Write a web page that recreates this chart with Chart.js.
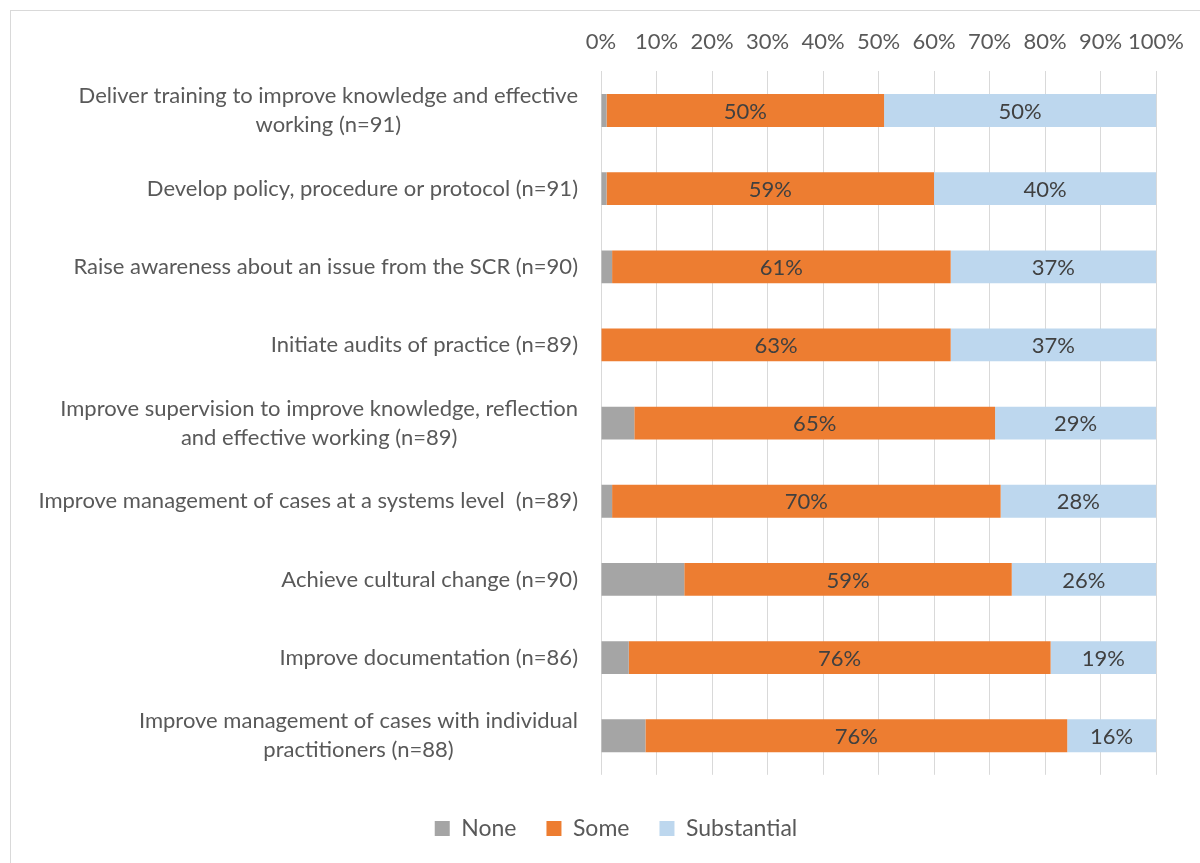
<!DOCTYPE html>
<html>
<head>
<meta charset="utf-8">
<script src="https://cdn.jsdelivr.net/npm/chart.js@4/dist/chart.umd.min.js"></script>
<style>
  html, body { margin: 0; padding: 0; background: #fff; overflow: hidden; }
  #frame { position: absolute; left: 10px; top: 10px; width: 1300px; height: 1000px; border: 1px solid #d9d9d9; }
  #wrap { position: absolute; left: 0; top: 0; width: 1200px; height: 863px; }
</style>
</head>
<body>
<div id="frame"></div>
<div id="wrap"><canvas id="chart1"></canvas></div>
<script>
// categories (top to bottom) and the three response levels, in percent
let categories = [
  ['Deliver training to improve knowledge and effective', 'working (n=91)'],
  'Develop policy, procedure or protocol (n=91)',
  'Raise awareness about an issue from the SCR (n=90)',
  'Initiate audits of practice (n=89)',
  ['Improve supervision to improve knowledge, reflection', 'and effective working (n=89)'],
  'Improve management of cases at a systems level  (n=89)',
  'Achieve cultural change (n=90)',
  'Improve documentation (n=86)',
  ['Improve management of cases with individual', 'practitioners (n=88)']
];
let none = [1, 1, 2, 0, 6, 2, 15, 5, 8];
let some = [50, 59, 61, 63, 65, 70, 59, 76, 76];
let substantial = [50, 40, 37, 37, 29, 28, 26, 19, 16];
let xTicks = [0, 10, 20, 30, 40, 50, 60, 70, 80, 90, 100];

const FONT = 'Lato';
const FSIZE = 22;
const TEXT = '#595959';

// category labels: block right aligned, lines centred inside the block
const catLabels = {
  id: 'catLabels',
  afterDraw(chart) {
    const ctx = chart.ctx;
    const y = chart.scales.y;
    const right = chart.chartArea.left - 23;
    const lh = 29;
    ctx.save();
    ctx.font = FSIZE + 'px ' + FONT;
    ctx.fillStyle = TEXT;
    ctx.textAlign = 'center';
    ctx.textBaseline = 'middle';
    categories.forEach((lab, i) => {
      const lines = Array.isArray(lab) ? lab : [lab];
      let w = 0;
      lines.forEach(l => { w = Math.max(w, ctx.measureText(l).width); });
      const cx = right - w / 2;
      const cy = y.getPixelForValue(i) - (lines.length - 1) * lh / 2;
      lines.forEach((l, k) => ctx.fillText(l, cx, cy + k * lh));
    });
    ctx.restore();
  }
};

// percentage labels in the Some / Substantial segments
const barLabels = {
  id: 'barLabels',
  afterDatasetsDraw(chart) {
    const ctx = chart.ctx;
    ctx.save();
    ctx.font = FSIZE + 'px ' + FONT;
    ctx.fillStyle = '#404040';
    ctx.textAlign = 'center';
    ctx.textBaseline = 'middle';
    [1, 2].forEach(d => {
      const meta = chart.getDatasetMeta(d);
      const vals = chart.data.datasets[d].data;
      meta.data.forEach((bar, i) => {
        const left = Math.max(bar.base, chart.chartArea.left);
        const right = Math.min(bar.x, chart.chartArea.right);
        ctx.fillText(vals[i] + '%', (left + right) / 2, bar.y + 1);
      });
    });
    ctx.restore();
  }
};

const data = {
  labels: categories,
  datasets: [
    { label: 'None', data: none, backgroundColor: '#a5a5a5' },
    { label: 'Some', data: some, backgroundColor: '#ed7d31' },
    { label: 'Substantial', data: substantial, backgroundColor: '#bdd7ee' }
  ]
};

const config = {
  type: 'bar',
  data: data,
  options: {
    indexAxis: 'y',
    responsive: false,
    animation: false,
    devicePixelRatio: 1,
    layout: { padding: { left: 74, right: 42, top: 13, bottom: 13 } },
    datasets: { bar: { barPercentage: 0.42, categoryPercentage: 1 } },
    scales: {
      x: {
        position: 'top',
        stacked: true,
        min: 0,
        max: 100,
        afterBuildTicks(scale) { scale.ticks = xTicks.map(v => ({ value: v })); },
        ticks: {
          callback: v => v + '%',
          color: TEXT,
          font: { family: FONT, size: FSIZE },
          padding: 16,
          autoSkip: false,
          maxRotation: 0
        },
        grid: { color: '#d9d9d9', drawTicks: false, lineWidth: 1 },
        border: { display: false }
      },
      y: {
        stacked: true,
        ticks: { display: false },
        grid: { display: false },
        border: { display: false },
        afterFit(scale) { scale.width = 527; }
      }
    },
    plugins: {
      legend: {
        position: 'bottom',
        title: { display: true, text: '', font: { size: 6 }, padding: { top: 0, bottom: 5 } },
        labels: {
          color: TEXT,
          font: { family: FONT, size: 23 },
          boxWidth: 15,
          boxHeight: 15,
          padding: 30
        }
      },
      tooltip: { enabled: false }
    }
  },
  plugins: [catLabels, barLabels]
};

const canvas = document.getElementById('chart1');
canvas.width = 1200;
canvas.height = 863;
const myChart = new Chart(canvas, config);
</script>
</body>
</html>
